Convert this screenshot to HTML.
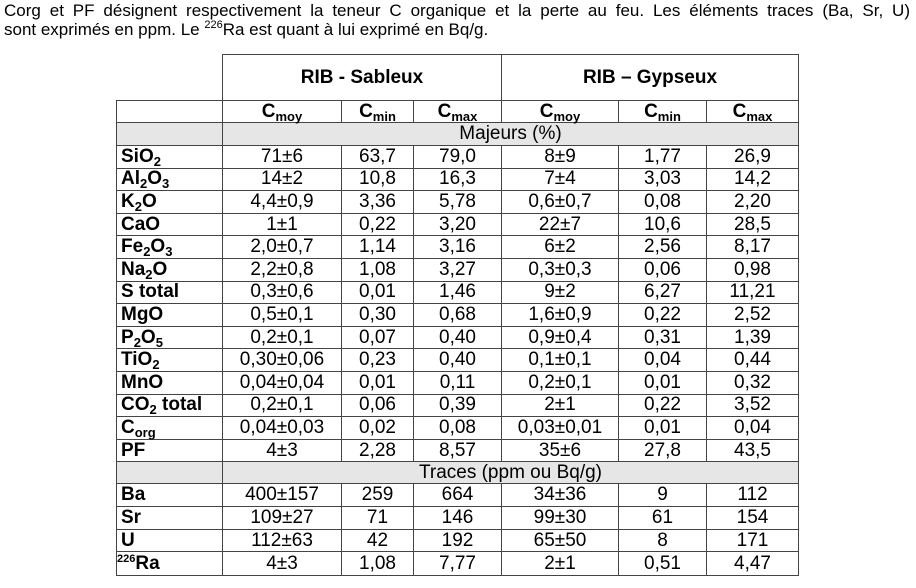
<!DOCTYPE html>
<html><head><meta charset="utf-8"><style>
body{margin:0;width:916px;height:588px;background:#fff;position:relative;overflow:hidden;font-family:"Liberation Sans",sans-serif;color:#000}
#cap{position:absolute;left:4px;top:1px;width:906px;font-size:17px;line-height:19px}
#cap .l1{display:block;text-align:justify;text-align-last:justify;white-space:nowrap}
table{position:absolute;left:116px;top:54px;border-collapse:collapse;table-layout:fixed;font-size:19px}
td{border:1.5px solid #444;padding:0;text-align:center;line-height:18px;overflow:visible;white-space:nowrap}
td.l{text-align:left;font-weight:bold;padding-left:4px}
.band td{background:#e6e6e6}
.h td{font-weight:bold}
sub{font-size:13px;vertical-align:-4px;line-height:0}
sup{font-size:11px;vertical-align:7px;line-height:0}
</style></head><body>
<div id="cap"><span class="l1">Corg et PF désignent respectivement la teneur C organique et la perte au feu. Les éléments traces (Ba, Sr, U)</span>sont exprimés en ppm. Le <sup>226</sup>Ra est quant à lui exprimé en Bq/g.</div>
<table>
<colgroup><col style="width:106px"><col style="width:119px"><col style="width:72px"><col style="width:88px"><col style="width:117px"><col style="width:88px"><col style="width:92px"></colgroup>
<tr style="height:46px" class="h"><td style="border:none;border-right:1.5px solid #444"></td><td colspan="3">RIB - Sableux</td><td colspan="3">RIB – Gypseux</td></tr>
<tr style="height:22px" class="h"><td></td><td>C<sub>moy</sub></td><td>C<sub>min</sub></td><td>C<sub>max</sub></td><td>C<sub>moy</sub></td><td>C<sub>min</sub></td><td>C<sub>max</sub></td></tr>
<tr style="height:23px" class="band"><td></td><td colspan="6">Majeurs (%)</td></tr>
<tr style="height:22.6px"><td class="l">SiO<sub>2</sub></td><td>71±6</td><td>63,7</td><td>79,0</td><td>8±9</td><td>1,77</td><td>26,9</td></tr>
<tr style="height:22.6px"><td class="l">Al<sub>2</sub>O<sub>3</sub></td><td>14±2</td><td>10,8</td><td>16,3</td><td>7±4</td><td>3,03</td><td>14,2</td></tr>
<tr style="height:22.6px"><td class="l">K<sub>2</sub>O</td><td>4,4±0,9</td><td>3,36</td><td>5,78</td><td>0,6±0,7</td><td>0,08</td><td>2,20</td></tr>
<tr style="height:22.6px"><td class="l">CaO</td><td>1±1</td><td>0,22</td><td>3,20</td><td>22±7</td><td>10,6</td><td>28,5</td></tr>
<tr style="height:22.6px"><td class="l">Fe<sub>2</sub>O<sub>3</sub></td><td>2,0±0,7</td><td>1,14</td><td>3,16</td><td>6±2</td><td>2,56</td><td>8,17</td></tr>
<tr style="height:22.6px"><td class="l">Na<sub>2</sub>O</td><td>2,2±0,8</td><td>1,08</td><td>3,27</td><td>0,3±0,3</td><td>0,06</td><td>0,98</td></tr>
<tr style="height:22.6px"><td class="l">S total</td><td>0,3±0,6</td><td>0,01</td><td>1,46</td><td>9±2</td><td>6,27</td><td>11,21</td></tr>
<tr style="height:22.6px"><td class="l">MgO</td><td>0,5±0,1</td><td>0,30</td><td>0,68</td><td>1,6±0,9</td><td>0,22</td><td>2,52</td></tr>
<tr style="height:22.6px"><td class="l">P<sub>2</sub>O<sub>5</sub></td><td>0,2±0,1</td><td>0,07</td><td>0,40</td><td>0,9±0,4</td><td>0,31</td><td>1,39</td></tr>
<tr style="height:22.6px"><td class="l">TiO<sub>2</sub></td><td>0,30±0,06</td><td>0,23</td><td>0,40</td><td>0,1±0,1</td><td>0,04</td><td>0,44</td></tr>
<tr style="height:22.6px"><td class="l">MnO</td><td>0,04±0,04</td><td>0,01</td><td>0,11</td><td>0,2±0,1</td><td>0,01</td><td>0,32</td></tr>
<tr style="height:22.6px"><td class="l">CO<sub>2</sub> total</td><td>0,2±0,1</td><td>0,06</td><td>0,39</td><td>2±1</td><td>0,22</td><td>3,52</td></tr>
<tr style="height:22.6px"><td class="l">C<sub>org</sub></td><td>0,04±0,03</td><td>0,02</td><td>0,08</td><td>0,03±0,01</td><td>0,01</td><td>0,04</td></tr>
<tr style="height:22.6px"><td class="l">PF</td><td>4±3</td><td>2,28</td><td>8,57</td><td>35±6</td><td>27,8</td><td>43,5</td></tr>
<tr style="height:22px" class="band"><td></td><td colspan="6">Traces (ppm ou Bq/g)</td></tr>
<tr style="height:23px"><td class="l">Ba</td><td>400±157</td><td>259</td><td>664</td><td>34±36</td><td>9</td><td>112</td></tr>
<tr style="height:23px"><td class="l">Sr</td><td>109±27</td><td>71</td><td>146</td><td>99±30</td><td>61</td><td>154</td></tr>
<tr style="height:22px"><td class="l">U</td><td>112±63</td><td>42</td><td>192</td><td>65±50</td><td>8</td><td>171</td></tr>
<tr style="height:24px"><td class="l" style="padding-left:0"><sup>226</sup>Ra</td><td>4±3</td><td>1,08</td><td>7,77</td><td>2±1</td><td>0,51</td><td>4,47</td></tr>
</table>
</body></html>
